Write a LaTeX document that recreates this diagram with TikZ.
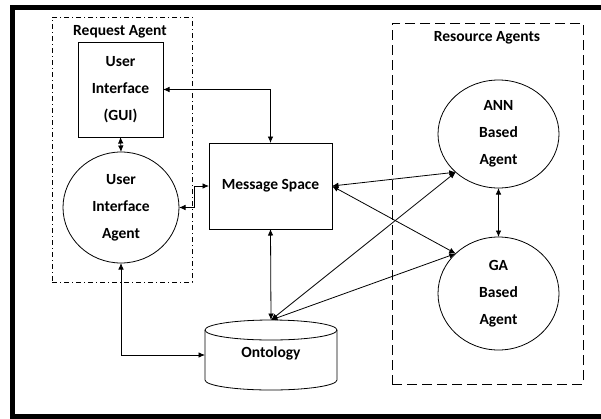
\documentclass[tikz,border=0pt]{standalone}
\usepackage{fontspec}
\setmainfont{Carlito}
\usetikzlibrary{shapes.geometric,arrows.meta}
\begin{document}
\begin{tikzpicture}[x=1pt,y=-1pt,
  txt/.style={font=\fontsize{15.5}{27}\selectfont\bfseries, align=center, inner sep=0pt, outer sep=0pt},
  boxnode/.style={txt, draw, line width=0.8pt},
  agent/.style={txt, draw, ellipse, line width=0.8pt},
  conn/.style={line width=0.8pt, {Latex[length=6.5pt,width=5.5pt]}-{Latex[length=6.5pt,width=5.5pt]}},
  grp/.style={draw, line width=1pt, inner sep=0pt, outer sep=0pt},
  outline/.style={line width=0.8pt}
]
\useasboundingbox (0,0) rectangle (601,418);
\fill[white] (0,0) rectangle (601,418);
% outer frame (right side lies beyond the picture)
\draw[line width=5pt] (601,7.5) -- (12.5,7.5) -- (12.5,416) -- (601,416);
% groups
\node[grp, dash pattern=on 5pt off 3pt on 1pt off 3pt, minimum width=140, minimum height=265] (reqbox) at (122,149.5) {};
\node[grp, dash pattern=on 10pt off 5pt, minimum width=191, minimum height=361] (resbox) at (487.5,203.5) {};
\node[txt] (reqlbl) at (120,32) {Request Agent};
\node[txt] (reslbl) at (487,38) {Resource Agents};
% nodes
\node[boxnode, minimum width=85, minimum height=95] (gui) at (120.5,89.5) {User\\Interface\\(GUI)};
\node[agent, minimum width=116, minimum height=111] (uia) at (121,207.5) {User\\Interface\\Agent};
\node[boxnode, minimum width=123, minimum height=86] (msg) at (270.5,186) {Message Space};
\node[agent, minimum width=121, minimum height=108] (ann) at (498.5,134) {ANN\\Based\\Agent};
\node[agent, minimum width=121, minimum height=113] (ga) at (498.5,293.5) {GA\\Based\\Agent};
% ontology cylinder
\node[txt, minimum width=132, minimum height=70] (onto) at (271,355) {};
\draw[outline] (205,330) -- (205,380) arc[start angle=180, end angle=360, x radius=66pt, y radius=10pt] -- (337,330);
\draw[outline] (271,330) ellipse [x radius=66pt, y radius=10pt];
\node[txt] (ontolbl) at (271,353) {Ontology};
% connectors
\draw[conn] (gui.east) -| (msg.north);
\draw[conn] (gui.south) -- (uia.north);
\draw[conn] (msg.west) -- ++(-15,0) |- (uia.east);
\draw[conn] (msg.south) -- (onto.north);
\draw[conn] (uia.south) |- (onto.west);
\draw[conn] (msg.east) -- (ann.south west);
\draw[conn] (msg.east) -- (ga.north west);
\draw[conn] (onto.north) -- (ann.south west);
\draw[conn] (onto.north) -- (ga.north west);
\draw[conn] (ann.south) -- (ga.north);
\end{tikzpicture}
\end{document}
